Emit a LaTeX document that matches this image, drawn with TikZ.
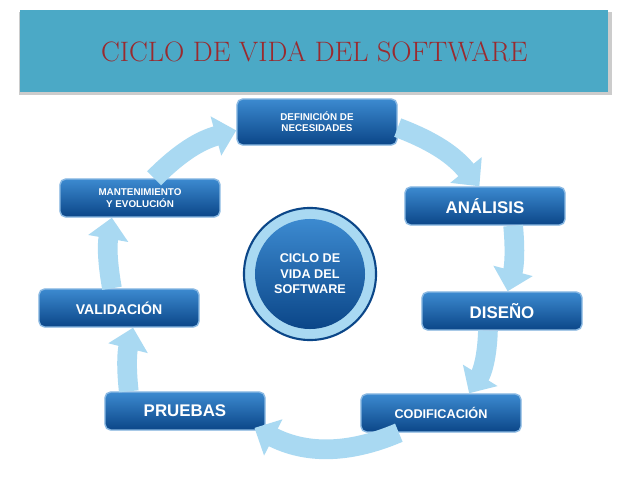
\documentclass[tikz,border=0pt]{standalone}
\usepackage{fontspec}
\setsansfont{Liberation Sans}
\usetikzlibrary{positioning, arrows.meta}
\definecolor{barblue}{HTML}{4BA9C6}
\definecolor{titlered}{HTML}{9A2A2E}
\definecolor{boxtop}{HTML}{3C8AD0}
\definecolor{boxbot}{HTML}{0B4688}
\definecolor{flow}{HTML}{A9D9F2}
\begin{document}
\begin{tikzpicture}[x=0.025cm, y=-0.025cm]

  \tikzstyle{stage} = [rectangle, rounded corners=4pt, draw=boxtop!60!white, line width=1pt,
    top color=boxtop, bottom color=boxbot, text=white, align=center,
    font=\sffamily\bfseries\scriptsize, minimum width=4cm, minimum height=0.95cm];
  \tikzstyle{flowarrow} = [flow, line width=14pt, -{Triangle[width=28pt, length=15pt]}];

  \useasboundingbox (0,0) rectangle (638,479);
  \fill[white] (0,0) rectangle (638,479);

  % title bar
  \fill[gray!40] (19,12) rectangle (612,95);
  \node[fill=barblue, minimum width=14.7cm, minimum height=2.05cm, anchor=north west,
    inner sep=0pt] (bar) at (20,10) {};
  \node[text=titlered, font=\rmfamily\fontsize{20}{22}\selectfont] (title) at (bar.center)
    {CICLO DE VIDA DEL SOFTWARE};

  % stages
  \node[stage, minimum height=1.15cm] (def) at (317,122) {DEFINICIÓN DE\\NECESIDADES};
  \node[stage, font=\sffamily\bfseries\large] (ana) at (485,206) {ANÁLISIS};
  \node[stage, font=\sffamily\bfseries\large] (dis) at (502,311) {DISEÑO};
  \node[stage, font=\sffamily\bfseries\small] (cod) at (441,413) {CODIFICACIÓN};
  \node[stage, font=\sffamily\bfseries\large] (pru) at (185,411) {PRUEBAS};
  \node[stage, font=\sffamily\bfseries\normalsize] (val) at (119,308) {VALIDACIÓN};
  \node[stage] (man) at (140,198) {MANTENIMIENTO\\Y EVOLUCIÓN};

  % centre
  \node[circle, minimum size=3.3cm, fill=flow, draw=boxbot, line width=1.5pt] (ring) at (310,274) {};
  \node[circle, minimum size=2.75cm, top color=boxtop, bottom color=boxbot, text=white,
    align=center, font=\sffamily\bfseries\small] (core) at (ring.center) {CICLO DE\\VIDA DEL\\SOFTWARE};

  % flow arrows
  \draw[flowarrow] ([xshift=10pt]man.north) to[bend left=15] ([yshift=-6pt]def.west);
  \draw[flowarrow] ([yshift=-4pt]def.east) to[bend left=15] ([xshift=-4pt]ana.north);
  \draw[flowarrow] ([xshift=20pt]ana.south) to[bend left=10] ([xshift=4pt]dis.north);
  \draw[flowarrow] ([xshift=-10pt]dis.south) to[bend left=15] ([xshift=20pt]cod.north);
  \draw[flowarrow] ([xshift=-30pt]cod.south) to[bend left=25] ([xshift=-8pt,yshift=-12pt]pru.east);
  \draw[flowarrow] ([xshift=-40pt]pru.north) to[bend left=10] ([xshift=10pt]val.south);
  \draw[flowarrow] ([xshift=-5pt]val.north) to[bend left=10] ([xshift=-20pt]man.south);
\end{tikzpicture}
\end{document}
